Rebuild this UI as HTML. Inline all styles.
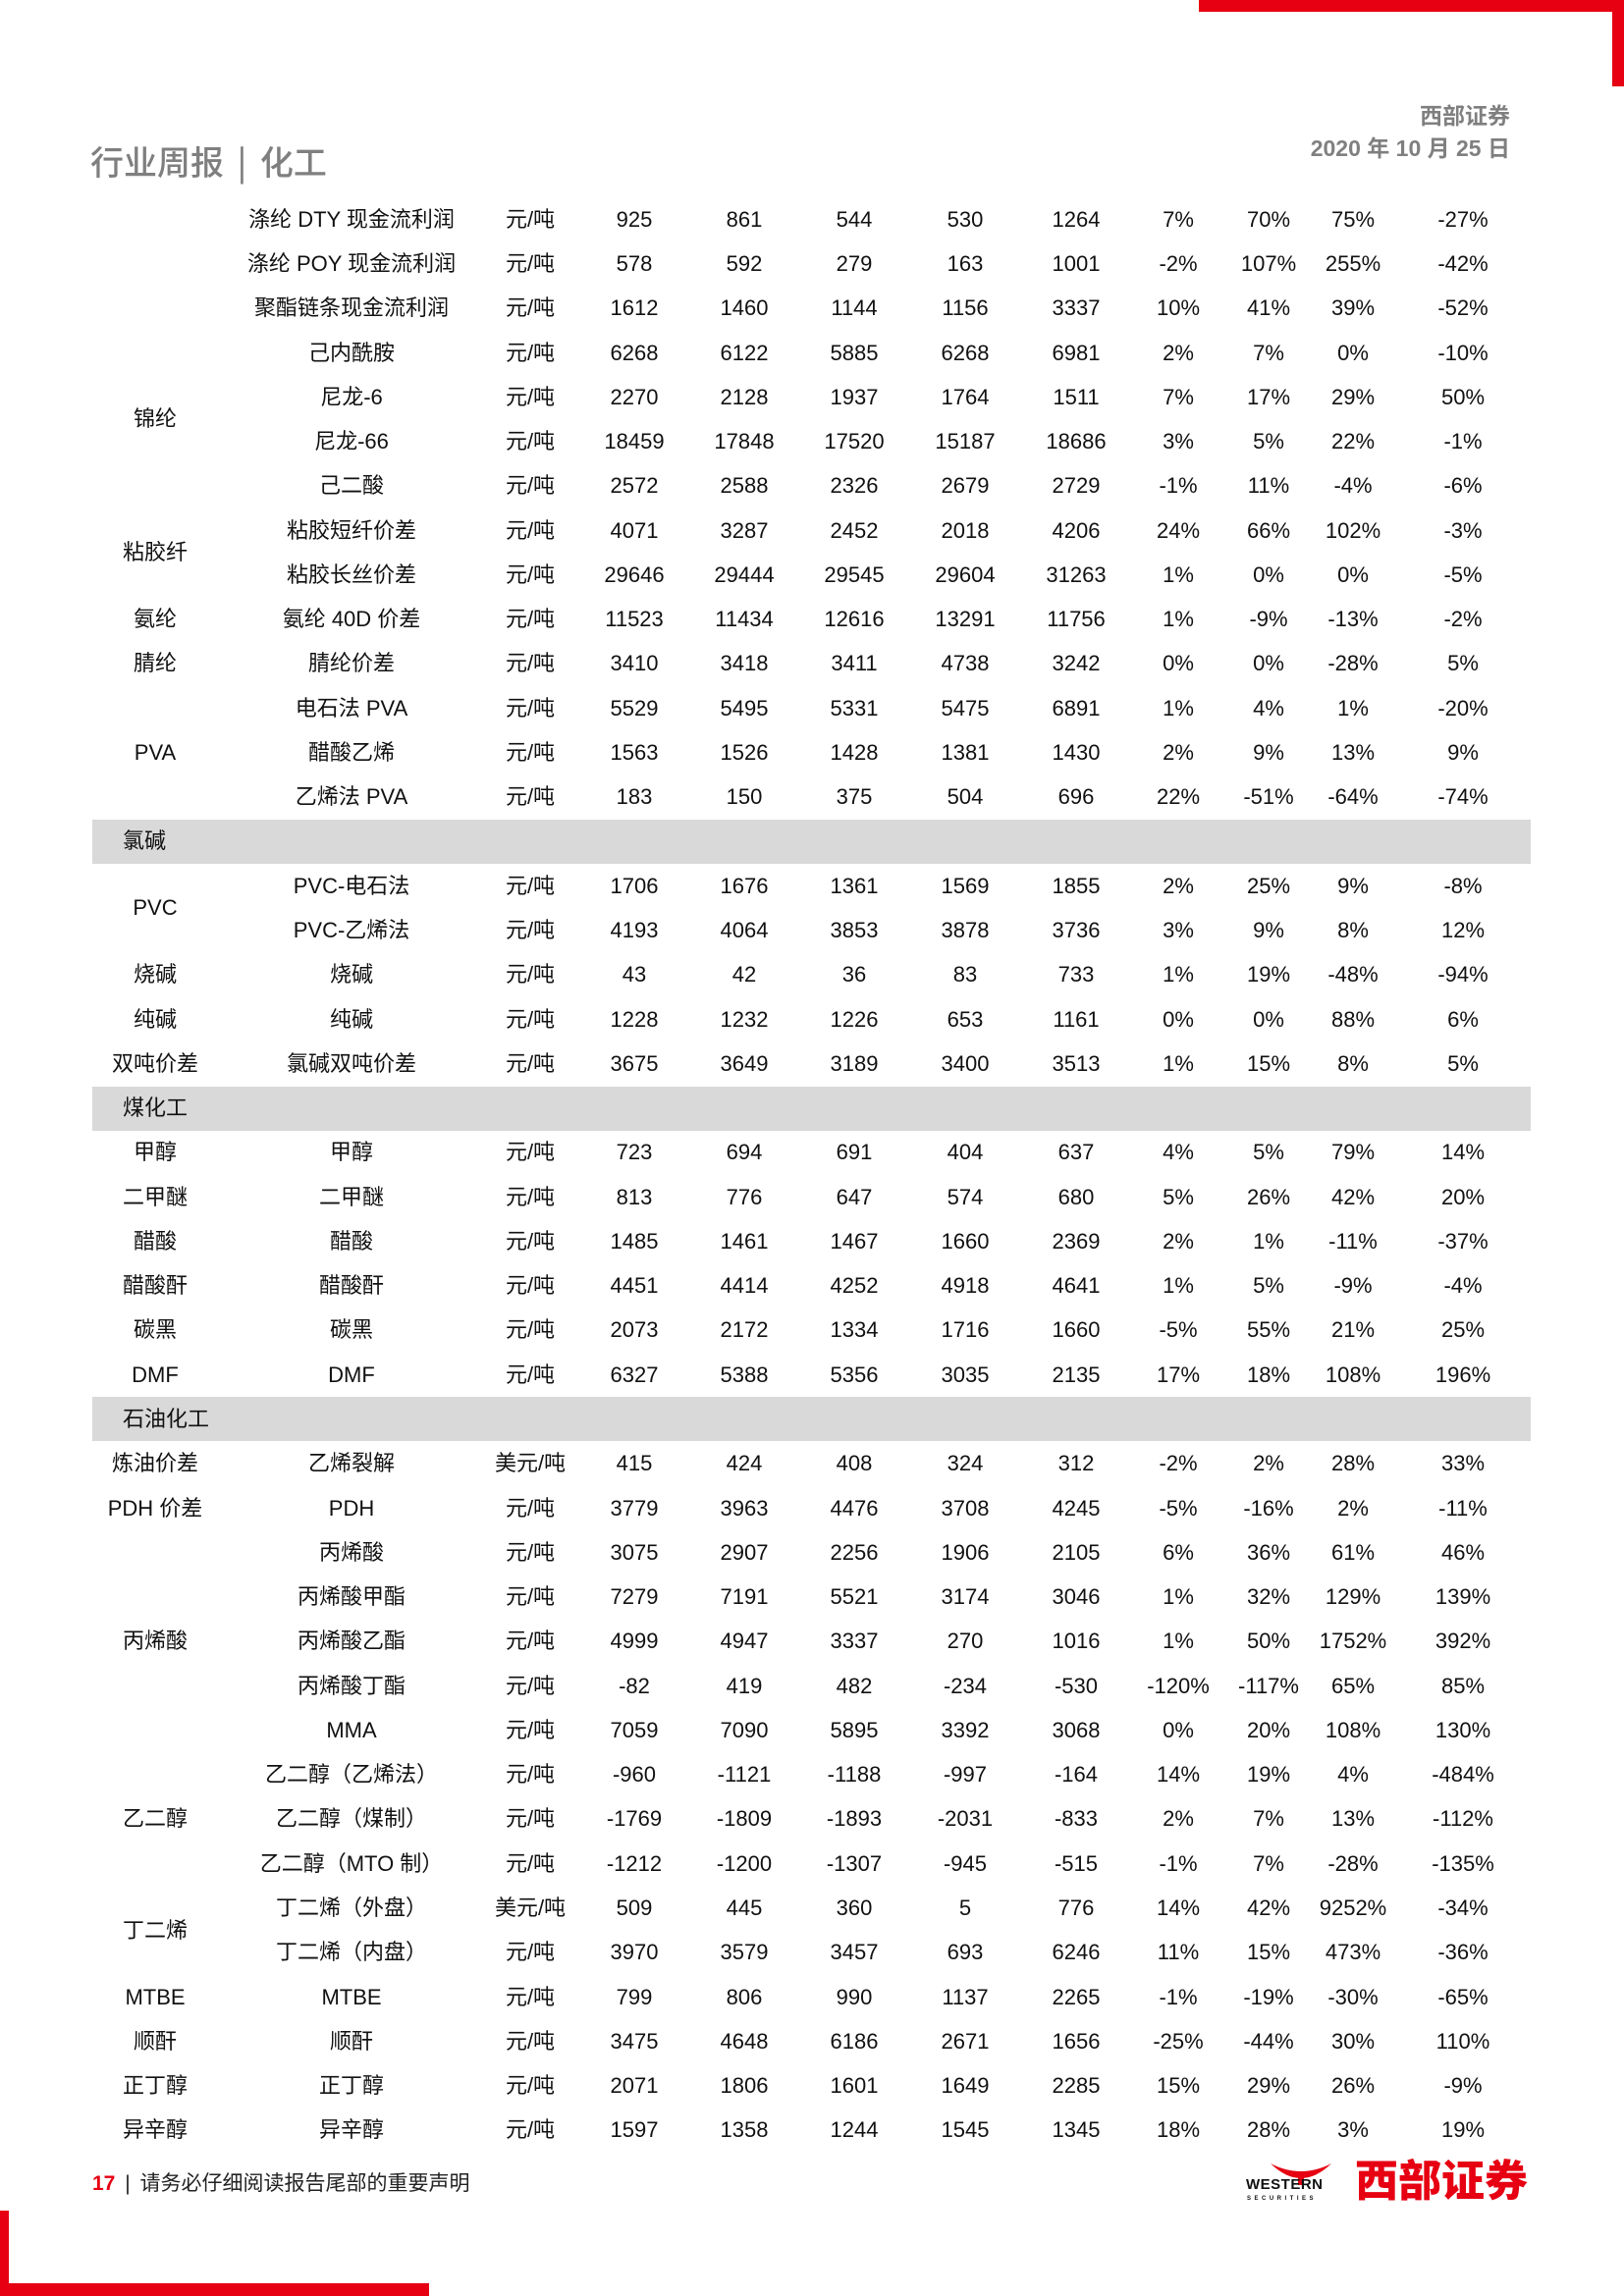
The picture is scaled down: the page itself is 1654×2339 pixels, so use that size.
<!DOCTYPE html>
<html><head><meta charset="utf-8">
<style>
html,body{margin:0;padding:0;background:#fff;}
#page{position:relative;width:1654px;height:2339px;overflow:hidden;background:#fff;font-family:"Liberation Sans","Noto Sans CJK SC",sans-serif;color:#111;}
.c{position:absolute;white-space:nowrap;font-size:22px;line-height:30px;transform:translate(-50%,-50%);}
.band{position:absolute;left:94px;width:1465px;height:45px;background:#d9d9d9;}
.hl{position:absolute;font-size:22px;line-height:30px;transform:translateY(-50%);}
</style></head><body>
<div id="page">
  <div style="position:absolute;left:1221px;top:0;width:433px;height:12px;background:#e60012"></div>
  <div style="position:absolute;left:1642px;top:0;width:12px;height:88px;background:#e60012"></div>
  <div style="position:absolute;left:92px;top:144px;font-size:34px;line-height:40px;color:#7f7f7f;font-weight:500;font-family:'Noto Sans CJK SC',sans-serif;">行业周报 <span style="margin:0 6px">|</span> 化工</div>
  <div style="position:absolute;right:116px;top:104px;font-size:23px;line-height:28px;color:#7f7f7f;font-weight:bold;">西部证券</div>
  <div style="position:absolute;right:116px;top:136px;font-size:23px;line-height:30px;color:#7f7f7f;font-weight:bold;">2020 年 10 月 25 日</div>
  <div id="tbl"></div>
  <div style="position:absolute;left:94px;top:2211px;font-size:21px;line-height:28px;color:#222;"><span style="color:#e60012;font-weight:bold">17</span> <span style="margin:0 4px">|</span> 请务必仔细阅读报告尾部的重要声明</div>
  <svg style="position:absolute;left:1290px;top:2200px" width="70" height="26"><path d="M4 4 Q35 34 66 4 Q35 20 4 4Z" fill="#e60012"/><rect x="32" y="14" width="6" height="12" fill="#e60012"/></svg>
  <div style="position:absolute;left:1269px;top:2218px;font-size:15px;font-weight:bold;line-height:16px;color:#111;letter-spacing:0.5px">WESTERN</div>
  <div style="position:absolute;left:1270px;top:2236px;font-size:6px;font-weight:bold;line-height:8px;color:#111;letter-spacing:3.5px">SECURITIES</div>
  <div style="position:absolute;left:1380px;top:2194px;font-size:44px;font-weight:900;line-height:48px;color:#e60012;font-family:'Noto Sans CJK SC',sans-serif;">西部证券</div>
  <div style="position:absolute;left:0;top:2252px;width:9px;height:87px;background:#e60012"></div>
  <div style="position:absolute;left:0;top:2326px;width:437px;height:13px;background:#e60012"></div>
</div>
<script>
const items=["涤纶 DTY 现金流利润","涤纶 POY 现金流利润","聚酯链条现金流利润","己内酰胺","尼龙-6","尼龙-66","己二酸","粘胶短纤价差","粘胶长丝价差","氨纶 40D 价差","腈纶价差","电石法 PVA","醋酸乙烯","乙烯法 PVA","#氯碱","PVC-电石法","PVC-乙烯法","烧碱","纯碱","氯碱双吨价差","#煤化工","甲醇","二甲醚","醋酸","醋酸酐","碳黑","DMF","#石油化工","乙烯裂解","PDH","丙烯酸","丙烯酸甲酯","丙烯酸乙酯","丙烯酸丁酯","MMA","乙二醇（乙烯法）","乙二醇（煤制）","乙二醇（MTO 制）","丁二烯（外盘）","丁二烯（内盘）","MTBE","顺酐","正丁醇","异辛醇"];
const units=["元/吨","元/吨","元/吨","元/吨","元/吨","元/吨","元/吨","元/吨","元/吨","元/吨","元/吨","元/吨","元/吨","元/吨","","元/吨","元/吨","元/吨","元/吨","元/吨","","元/吨","元/吨","元/吨","元/吨","元/吨","元/吨","","美元/吨","元/吨","元/吨","元/吨","元/吨","元/吨","元/吨","元/吨","元/吨","元/吨","美元/吨","元/吨","元/吨","元/吨","元/吨","元/吨"];
const val1=[925,578,1612,6268,2270,18459,2572,4071,29646,11523,3410,5529,1563,183,null,1706,4193,43,1228,3675,null,723,813,1485,4451,2073,6327,null,415,3779,3075,7279,4999,-82,7059,-960,-1769,-1212,509,3970,799,3475,2071,1597];
const val2=[861,592,1460,6122,2128,17848,2588,3287,29444,11434,3418,5495,1526,150,null,1676,4064,42,1232,3649,null,694,776,1461,4414,2172,5388,null,424,3963,2907,7191,4947,419,7090,-1121,-1809,-1200,445,3579,806,4648,1806,1358];
const val3=[544,279,1144,5885,1937,17520,2326,2452,29545,12616,3411,5331,1428,375,null,1361,3853,36,1226,3189,null,691,647,1467,4252,1334,5356,null,408,4476,2256,5521,3337,482,5895,-1188,-1893,-1307,360,3457,990,6186,1601,1244];
const val4=[530,163,1156,6268,1764,15187,2679,2018,29604,13291,4738,5475,1381,504,null,1569,3878,83,653,3400,null,404,574,1660,4918,1716,3035,null,324,3708,1906,3174,270,-234,3392,-997,-2031,-945,5,693,1137,2671,1649,1545];
const val5=[1264,1001,3337,6981,1511,18686,2729,4206,31263,11756,3242,6891,1430,696,null,1855,3736,733,1161,3513,null,637,680,2369,4641,1660,2135,null,312,4245,2105,3046,1016,-530,3068,-164,-833,-515,776,6246,2265,1656,2285,1345];
const pct1=[7,-2,10,2,7,3,-1,24,1,1,0,1,2,22,null,2,3,1,0,1,null,4,5,2,1,-5,17,null,-2,-5,6,1,1,-120,0,14,2,-1,14,11,-1,-25,15,18];
const pct2=[70,107,41,7,17,5,11,66,0,-9,0,4,9,-51,null,25,9,19,0,15,null,5,26,1,5,55,18,null,2,-16,36,32,50,-117,20,19,7,7,42,15,-19,-44,29,28];
const pct3=[75,255,39,0,29,22,-4,102,0,-13,-28,1,13,-64,null,9,8,-48,88,8,null,79,42,-11,-9,21,108,null,28,2,61,129,1752,65,108,4,13,-28,9252,473,-30,30,26,3];
const pct4=[-27,-42,-52,-10,50,-1,-6,-3,-5,-2,5,-20,9,-74,null,-8,12,-94,6,5,null,14,20,-37,-4,25,196,null,33,-11,46,139,392,85,130,-484,-112,-135,-34,-36,-65,110,-9,19];
const catNames=["锦纶","粘胶纤","氨纶","腈纶","PVA","PVC","烧碱","纯碱","双吨价差","甲醇","二甲醚","醋酸","醋酸酐","碳黑","DMF","炼油价差","PDH 价差","丙烯酸","乙二醇","丁二烯","MTBE","顺酐","正丁醇","异辛醇"];
const catStart=[3,7,9,10,11,15,17,18,19,21,22,23,24,25,26,28,29,30,35,38,40,41,42,43];
const catEnd=[6,8,9,10,13,16,17,18,19,21,22,23,24,25,26,28,29,34,37,39,40,41,42,43];

const Y0=223.7, DY=45.27;
function rowY(i){return Y0+i*DY;}
const colX={cat:158,item:358,unit:540,v:[646,758,870,983,1096],p:[1200,1292,1378,1490]};
const tbl=document.getElementById('tbl');
function cell(x,y,text,name){
  const d=document.createElement('div');
  d.className='c';
  d.style.left=x+'px';d.style.top=y+'px';
  d.textContent=text;
  
  
  tbl.appendChild(d);
}
const vals=[val1,val2,val3,val4,val5], pcts=[pct1,pct2,pct3,pct4];
items.forEach((it,i)=>{
  const y=rowY(i);
  if(it[0]==='#'){
    const b=document.createElement('div');
    b.className='band';
    b.style.top=(y-22.5)+'px';
    
    
    tbl.appendChild(b);
    const l=document.createElement('div');
    l.className='hl';
    l.style.left='125px';l.style.top=y+'px';
    l.textContent=it.slice(1);
    
    
    tbl.appendChild(l);
    return;
  }
  cell(colX.item,y,it,'item-name');
  cell(colX.unit,y,units[i],'unit');
  vals.forEach((a,k)=>cell(colX.v[k],y,String(a[i]),'value-cell'));
  pcts.forEach((a,k)=>cell(colX.p[k],y,a[i]+'%','change-cell'));
});
catNames.forEach((n,k)=>{
  const y=(rowY(catStart[k])+rowY(catEnd[k]))/2;
  cell(colX.cat,y,n,'category-label');
});
</script>
</body></html>
